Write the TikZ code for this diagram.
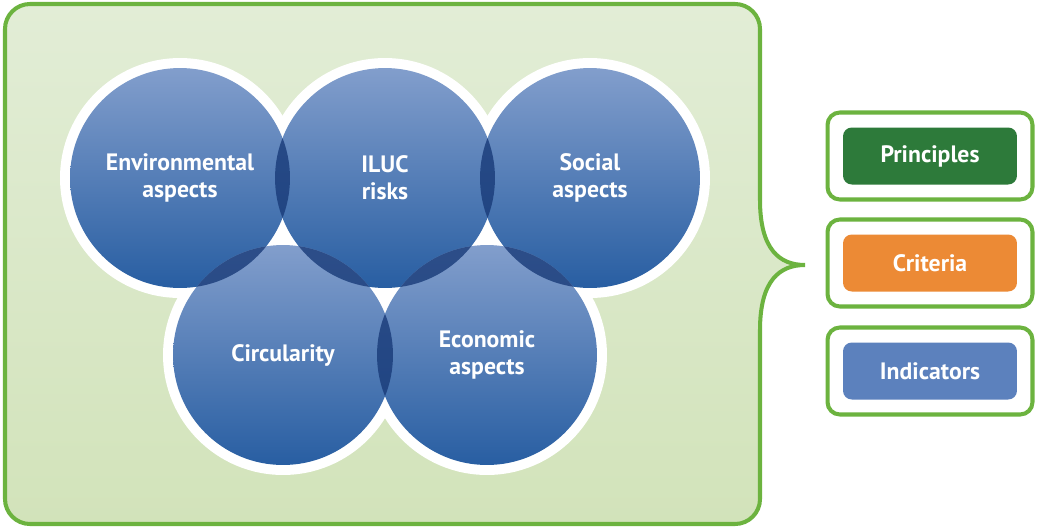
\documentclass[tikz,border=0pt]{standalone}
\usepackage{fontspec}
\setmainfont{PT Sans}
\usepackage{tikz}

\definecolor{panelline}{RGB}{108,179,63}
\definecolor{paneltop}{RGB}{226,237,214}
\definecolor{panelbottom}{RGB}{210,227,186}
\definecolor{bubbletop}{RGB}{130,158,204}
\definecolor{bubblebottom}{RGB}{40,94,162}
\definecolor{lensblue}{RGB}{24,58,120}
\definecolor{princgreen}{RGB}{45,122,58}
\definecolor{critorange}{RGB}{236,138,53}
\definecolor{indblue}{RGB}{92,129,189}

\pgfdeclarelayer{background}
\pgfsetlayers{background,main}

\tikzset{
	bubble/.style={circle, minimum size=4.4cm, inner sep=0pt, top color=bubbletop, bottom color=bubblebottom, text=white, align=center, font=\bfseries\fontsize{13.5}{15.3}\selectfont},
	frame/.style={draw=panelline, line width=2.3pt, fill=white, rounded corners=7pt, minimum width=4.1cm, minimum height=1.74cm},
	tag/.style={rounded corners=5pt, minimum width=3.48cm, minimum height=1.14cm, text=white, font=\bfseries\fontsize{13.5}{15}\selectfont}
}

\begin{document}
\begin{tikzpicture}[x=0.02cm, y=-0.02cm]
	\useasboundingbox (0,0) rectangle (1037,528);

	\node[bubble] (env)    at (180, 178) {Environmental\\aspects};
	\node[bubble] (iluc)   at (385, 178) {ILUC\\risks};
	\node[bubble] (social) at (590, 178) {Social\\aspects};
	\node[bubble] (circ)   at (283, 355) {Circularity};
	\node[bubble] (econ)   at (487, 355) {Economic\\aspects};

	% darker overlaps
	\foreach \a/\b in {env/iluc, iluc/social, env/circ, iluc/circ, iluc/econ, social/econ, circ/econ} {
		\begin{scope}
			\clip (\a.center) circle[radius=2.2cm];
			\fill[lensblue, opacity=0.8] (\b.center) circle[radius=2.2cm];
		\end{scope}
	}

	% panel and white halos
	\begin{pgfonlayer}{background}
		\path[draw=panelline, line width=2.3pt, top color=paneltop, bottom color=panelbottom]
			(760,330) [rounded corners=0.5cm] -- (760,524) -- (5,524) -- (5,4) -- (760,4) [sharp corners] -- (760,200)
			.. controls (760,250) and (780,265) .. (805,265)
			.. controls (780,265) and (760,280) .. (760,330) -- cycle;
		\foreach \c in {env, iluc, social, circ, econ}
			\fill[white] (\c.center) circle[radius=2.4cm];
	\end{pgfonlayer}

	\node[frame] (fprinc) at (930, 156) {};
	\node[frame] (fcrit)  at (930, 263) {};
	\node[frame] (find)   at (930, 371) {};
	\node[tag, fill=princgreen] (princ) at (fprinc) {Principles};
	\node[tag, fill=critorange] (crit)  at (fcrit)  {Criteria};
	\node[tag, fill=indblue]    (ind)   at (find)   {Indicators};
\end{tikzpicture}
\end{document}
